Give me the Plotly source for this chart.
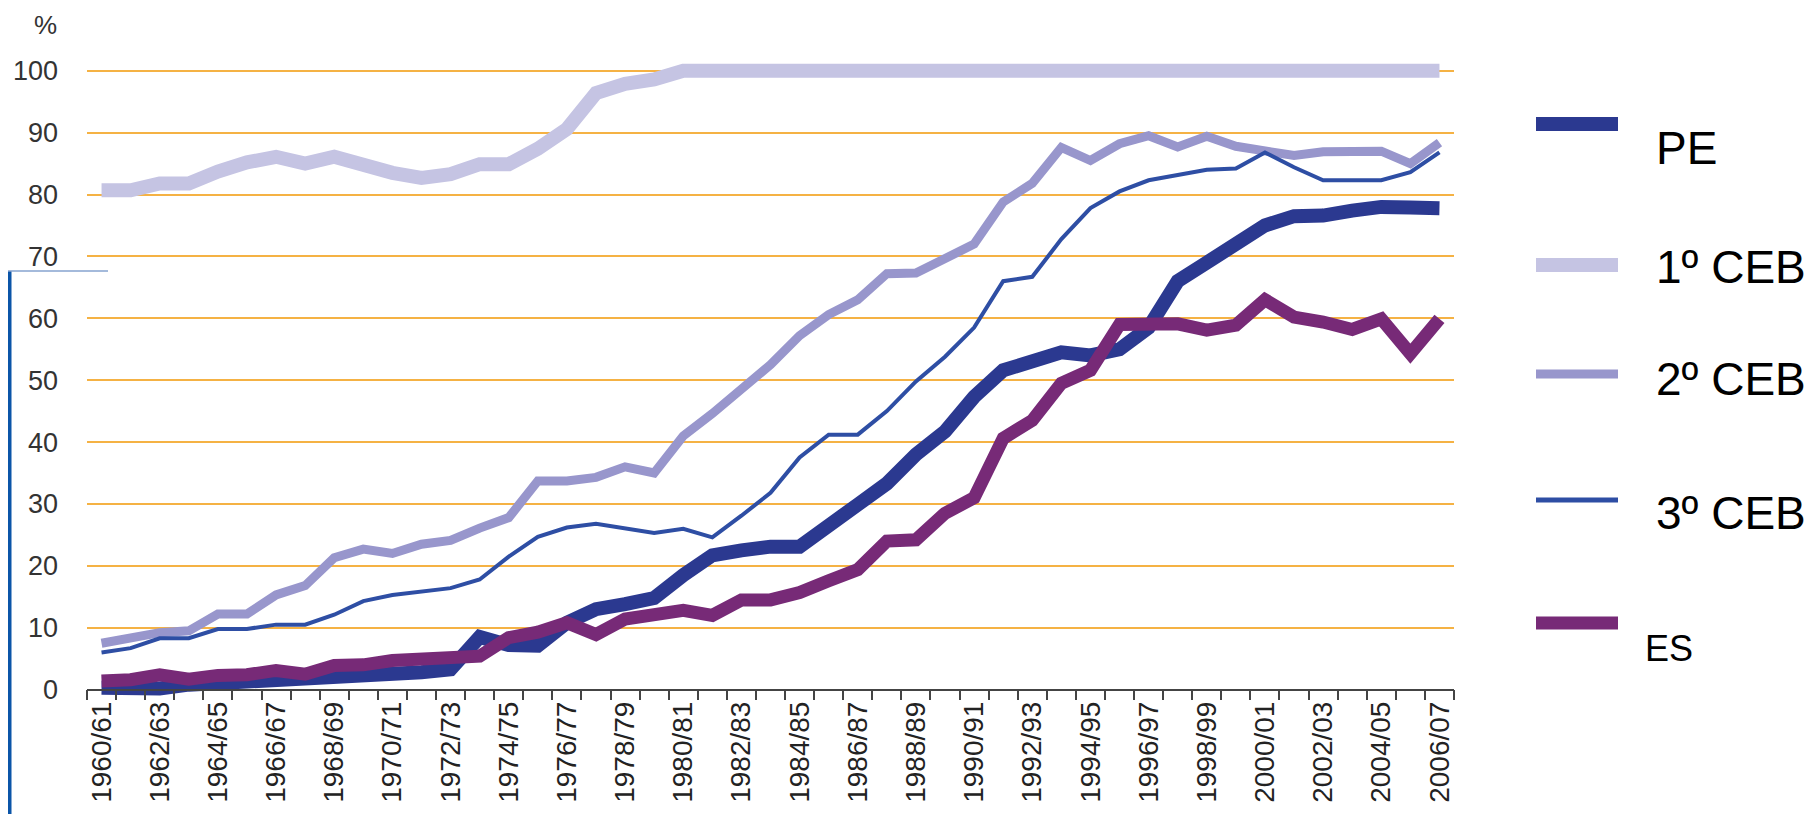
import plotly.graph_objects as go

# ---------------- data ----------------
years = ["1960/61", "1961/62", "1962/63", "1963/64", "1964/65", "1965/66", "1966/67", "1967/68",
         "1968/69", "1969/70", "1970/71", "1971/72", "1972/73", "1973/74", "1974/75", "1975/76",
         "1976/77", "1977/78", "1978/79", "1979/80", "1980/81", "1981/82", "1982/83", "1983/84",
         "1984/85", "1985/86", "1986/87", "1987/88", "1988/89", "1989/90", "1990/91", "1991/92",
         "1992/93", "1993/94", "1994/95", "1995/96", "1996/97", "1997/98", "1998/99", "1999/00",
         "2000/01", "2001/02", "2002/03", "2003/04", "2004/05", "2005/06", "2006/07"]
tick_labels = [y if i % 2 == 0 else "" for i, y in enumerate(years)]

pe = [0.3, 0.0, 0.2, 0.8, 1.0, 1.1, 1.3, 1.8, 2.2, 2.2, 2.6, 2.8, 3.3, 8.5, 7.2, 7.1,
      10.8, 13.0, 13.8, 14.8, 18.5, 21.7, 22.5, 23.1, 23.1, 26.8, 29.9, 33.3, 38.0, 41.7, 47.3, 51.6,
      52.8, 54.5, 54.0, 55.0, 58.5, 66.0, 69.0, 72.0, 75.0, 76.5, 76.6, 77.4, 78.0, 77.9, 77.8]
ceb1 = [80.7, 80.7, 81.8, 81.8, 83.7, 85.2, 86.1, 85.0, 86.1, 84.6, 83.5, 82.7, 83.3, 84.9, 84.9, 87.4,
        90.6, 96.4, 97.9, 98.6, 100, 100, 100, 100, 100, 100, 100, 100, 100, 100, 100, 100,
        100, 100, 100, 100, 100, 100, 100, 100, 100, 100, 100, 100, 100, 100, 100]
ceb2 = [7.5, 8.4, 9.2, 9.5, 12.2, 12.2, 15.3, 16.8, 21.3, 22.7, 22.0, 23.5, 24.1, 26.1, 27.8, 33.7,
        33.7, 34.3, 36.0, 35.0, 41.0, 44.6, 48.5, 52.5, 57.2, 60.6, 63.0, 67.2, 67.3, 69.5, 72.0, 78.8,
        81.8, 87.6, 85.5, 88.2, 89.5, 87.7, 89.4, 87.8, 87.0, 86.3, 86.9, 87.0, 87.0, 85.0, 88.4]
ceb3 = [6.0, 6.7, 8.3, 8.3, 9.8, 9.8, 10.5, 10.5, 12.1, 14.3, 15.3, 15.8, 16.4, 17.8, 21.5, 24.7,
        26.2, 26.8, 26.1, 25.3, 26.0, 24.6, 28.1, 31.8, 37.5, 41.2, 41.2, 45.0, 49.8, 53.8, 58.5, 66.0,
        66.7, 72.8, 77.8, 80.5, 82.3, 83.2, 84.0, 84.2, 86.8, 84.4, 82.3, 82.3, 82.3, 83.6, 86.8]
es = [1.4, 1.6, 2.4, 1.7, 2.3, 2.4, 3.1, 2.5, 3.9, 4.0, 4.7, 4.9, 5.3, 5.4, 8.4, 9.3,
      10.8, 8.9, 11.4, 12.2, 12.8, 12.0, 14.5, 14.5, 15.7, 17.6, 19.4, 24.0, 24.2, 28.5, 31.0, 40.6,
      43.5, 49.5, 51.6, 59.0, 59.1, 59.1, 58.1, 58.9, 63.0, 60.2, 59.4, 58.2, 59.9, 54.3, 59.9]

y_ticks = [0, 10, 20, 30, 40, 50, 60, 70, 80, 90, 100]

series_names = ["PE", "1º CEB", "2º CEB", "3º CEB", "ES"]
series_values = {"PE": pe, "1º CEB": ceb1, "2º CEB": ceb2, "3º CEB": ceb3, "ES": es}

# ---------------- styles ----------------
colors = {"PE": "#2b3990", "1º CEB": "#c5c4e3", "2º CEB": "#9896cc", "3º CEB": "#2e4ea4", "ES": "#772a77"}
widths = {"PE": 14, "1º CEB": 14, "2º CEB": 9, "3º CEB": 4, "ES": 13}
draw_order = ["1º CEB", "2º CEB", "3º CEB", "PE", "ES"]

FONT = "Liberation Sans, Arial, Helvetica, sans-serif"
BODY = 8                      # default page margin around the plot div
W, H = 1816 - BODY, 814 - BODY
ML, MT = 87 - BODY, 46 - BODY
PW, PH = 1367, 656
MR, MB = W - ML - PW, H - MT - PH
Y_RANGE = [-2, 104]


def px_x(px):
    """page pixel x -> paper coordinate"""
    return (px - BODY - ML) / PW


def px_y(py):
    """page pixel y -> paper coordinate"""
    return (MT + PH - (py - BODY)) / PH


fig = go.Figure()
for name in draw_order:
    fig.add_trace(go.Scatter(
        x=years, y=series_values[name], mode="lines", name=name,
        line=dict(color=colors[name], width=widths[name]),
        showlegend=False,
    ))

# ---------------- manual legend ----------------
legend_rows = [  # name, line y(px), text y(px), text x(px), font size
    ("PE", 124, 148, 1654, 46),
    ("1º CEB", 265, 267, 1654, 46),
    ("2º CEB", 374, 379, 1654, 46),
    ("3º CEB", 500, 513, 1654, 46),
    ("ES", 623, 648, 1643, 36),
]
shapes = []
annotations = []
for name, ly, ty, tx, fs in legend_rows:
    shapes.append(dict(type="line", xref="paper", yref="paper",
                       x0=px_x(1536), x1=px_x(1618), y0=px_y(ly), y1=px_y(ly),
                       line=dict(color=colors[name], width=max(widths[name], 5))))
    annotations.append(dict(text=name, xref="paper", yref="paper", x=px_x(tx), y=px_y(ty),
                            xanchor="left", yanchor="middle", showarrow=False,
                            font=dict(family=FONT, size=fs, color="#000000")))

annotations.append(dict(text="%", xref="paper", yref="paper", x=px_x(45), y=px_y(25),
                        xanchor="center", yanchor="middle", showarrow=False,
                        font=dict(family=FONT, size=26, color="#333333")))

# screenshot frame artefacts on the left edge
shapes.append(dict(type="rect", xref="paper", yref="paper", x0=px_x(BODY), x1=px_x(BODY + 3.5),
                   y0=px_y(830), y1=px_y(271), fillcolor="#0b55a8", line=dict(width=0), layer="above"))
shapes.append(dict(type="line", xref="paper", yref="paper", x0=px_x(BODY), x1=px_x(108),
                   y0=px_y(271), y1=px_y(271), line=dict(color="#86a3cf", width=1.5)))

fig.update_layout(
    width=W, height=H, autosize=False,
    margin=dict(l=ML, r=MR, t=MT, b=MB, pad=0),
    paper_bgcolor="white", plot_bgcolor="white",
    font=dict(family=FONT, color="#222222"),
    shapes=shapes, annotations=annotations,
    showlegend=False,
    xaxis=dict(
        type="category", categoryorder="array", categoryarray=years,
        range=[-0.5, len(years) - 0.5],
        tickmode="array", tickvals=years, ticktext=tick_labels, tickson="boundaries",
        ticks="outside", ticklen=10, tickwidth=1.5, tickcolor="#444444",
        showline=True, linecolor="#444444", linewidth=1.5,
        showgrid=False, zeroline=False, tickangle=-90,
        tickfont=dict(family=FONT, size=28, color="#222222"),
        anchor="free", position=(0 - Y_RANGE[0]) / (Y_RANGE[1] - Y_RANGE[0]),
        automargin=False, fixedrange=True,
    ),
    yaxis=dict(
        range=Y_RANGE, tickmode="array", tickvals=y_ticks,
        showgrid=True, gridcolor="#f5b244", gridwidth=2,
        zeroline=False, showline=False, ticks="",
        ticklabelstandoff=28,
        tickfont=dict(family=FONT, size=27, color="#333333"),
        automargin=False, fixedrange=True,
    ),
)

fig.write_html("out.html")
